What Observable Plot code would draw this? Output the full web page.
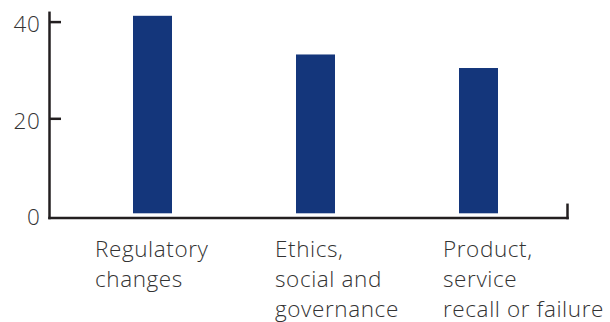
<!DOCTYPE html>
<html>
<head>
<meta charset="utf-8">
<script src="https://cdn.jsdelivr.net/npm/d3@7"></script>
<script src="https://cdn.jsdelivr.net/npm/@observablehq/plot@0.6"></script>
<style>
  html, body { margin: 0; padding: 0; background: #fff; }
  #chart svg { display: block; }
  #chart svg text { letter-spacing: 0.6px; }
</style>
</head>
<body>
<div id="chart"></div>
<script>
// Data
const categories = ["Regulatory\nchanges", "Ethics,\nsocial and\ngovernance", "Product,\nservice\nrecall or failure"];
const values = [41.2, 33.2, 30.4];
const yTicks = [0, 20, 40];

const data = categories.map((c, i) => ({category: c, value: values[i]}));

// Styling
const barColor = "#14367b";
const lineColor = "#231f20";
const textColor = "#333333";
const font = "'Open Sans', 'DejaVu Sans', sans-serif";
const fontSize = 22.5;
const labelDx = [-58, -41, -36];

const chart = Plot.plot({
  width: 610,
  height: 322,
  marginLeft: 49,
  marginRight: 43,
  marginTop: 12.3,
  marginBottom: 104.5,
  style: {fontFamily: font, fontSize: fontSize + "px", fontWeight: 300, color: textColor, background: "#fff"},
  x: {type: "band", domain: categories, paddingInner: 0.76, paddingOuter: 0.464, align: 0.547, axis: null},
  y: {domain: [0, 40], range: [215, 21.6], axis: null},
  marks: [
    Plot.barY(data, {x: "category", y: "value", fill: barColor, insetBottom: 1.7}),
    Plot.frame({anchor: "left", stroke: lineColor, strokeWidth: 2.5}),
    Plot.frame({anchor: "bottom", stroke: lineColor, strokeWidth: 2.5}),
    Plot.frame({anchor: "right", stroke: lineColor, strokeWidth: 2.5, insetTop: 192}),
    Plot.axisY(yTicks.filter(d => d !== 0), {anchor: "left", tickSize: 12, dx: 12, text: null, label: null, stroke: lineColor, strokeWidth: 2.5}),
    Plot.axisY(yTicks, {anchor: "left", tickSize: 0, tickPadding: 9, dy: 2.5, fill: textColor, fontSize: fontSize, label: null}),
    ...categories.map((c, i) => Plot.text([data[i]], {
      x: "category", text: "category", frameAnchor: "bottom",
      textAnchor: "start", lineAnchor: "top", lineHeight: 30 / fontSize,
      dx: labelDx[i], dy: 18, fill: textColor, fontSize: fontSize
    }))
  ]
});
document.getElementById("chart").appendChild(chart);
</script>
</body>
</html>
